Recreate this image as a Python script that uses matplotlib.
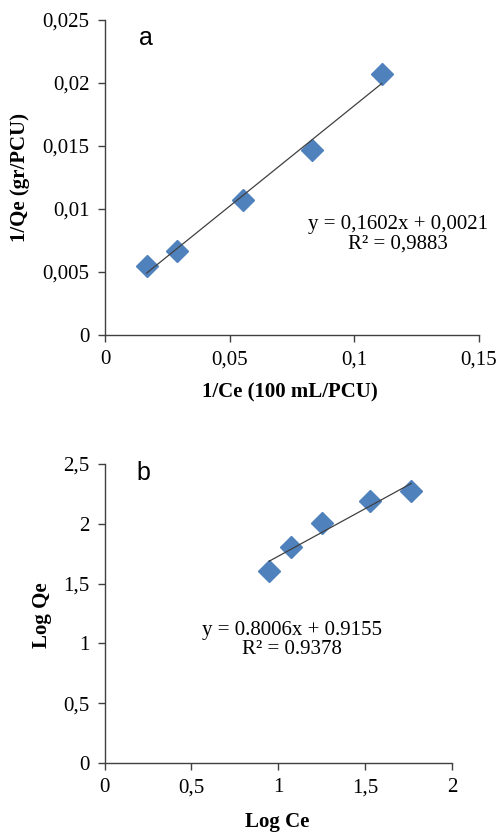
import matplotlib
matplotlib.use("Agg")
import matplotlib.pyplot as plt
import numpy as np
from matplotlib.ticker import FuncFormatter

# Datos: isoterma de Langmuir (a) y Freundlich (b)
inv_ce = [0.0167, 0.0288, 0.0553, 0.0831, 0.1110]
inv_qe = [0.0055, 0.0067, 0.0107, 0.0147, 0.0207]

log_ce = [0.948, 1.075, 1.252, 1.530, 1.765]
log_qe = [1.607, 1.810, 2.010, 2.190, 2.275]

eq_a = "y = 0,1602x + 0,0021\nR² = 0,9883"
eq_b = "y = 0.8006x + 0.9155\nR² = 0.9378"

SERIF = "Liberation Serif"
COLOR = "#4F81BD"
plt.rcParams["font.family"] = SERIF


def comma(v, pos):
    s = f"{v:.3f}".rstrip("0").rstrip(".")
    return s.replace(".", ",")


def style_axes(ax):
    for side in ["top", "right"]:
        ax.spines[side].set_visible(False)
    for side in ["left", "bottom"]:
        ax.spines[side].set_color("#404040")
        ax.spines[side].set_linewidth(1.0)
    ax.tick_params(direction="out", length=5, width=1.0, color="#404040",
                   labelsize=15, pad=6)
    ax.xaxis.set_major_formatter(FuncFormatter(comma))
    ax.yaxis.set_major_formatter(FuncFormatter(comma))


def labels(ax, xl, yl, xpos, ypos):
    ax.set_xlabel(xl, fontweight="bold", fontsize=15)
    ax.set_ylabel(yl, fontweight="bold", fontsize=15)
    ax.xaxis.label.set_va("center")
    ax.yaxis.label.set_va("center")
    ax.xaxis.set_label_coords(*xpos)
    ax.yaxis.set_label_coords(*ypos)


fig = plt.figure(figsize=(4.97, 8.33), dpi=100)

# Grafico a
ax1 = fig.add_axes([105 / 497, 1 - 335 / 833, 374 / 497, 315 / 833])
ax1.set_xlim(0, 0.15)
ax1.set_ylim(0, 0.025)
ax1.set_xticks([0, 0.05, 0.1, 0.15])
ax1.set_yticks([0, 0.005, 0.01, 0.015, 0.02, 0.025])
p = np.polyfit(inv_ce, inv_qe, 1)
xl = np.array([min(inv_ce), max(inv_ce)])
ax1.plot(xl, np.polyval(p, xl), color="#404040", lw=0.9, zorder=3)
ax1.plot(inv_ce, inv_qe, "D", color=COLOR, markersize=11, zorder=2)
style_axes(ax1)
labels(ax1, "1/Ce (100 mL/PCU)", "1/Qe (gr/PCU)", (0.495, -0.181), (-0.227, 0.50))
ax1.text(0.0164, 0.0236, "a", fontsize=18, fontfamily="Liberation Sans",
         va="center", ha="center")
ax1.text(0.1175, 0.0080, eq_a, fontsize=15, ha="center", va="center",
         linespacing=1.0)

# Grafico b
ax2 = fig.add_axes([104.5 / 497, 1 - 763 / 833, 347.5 / 497, 299 / 833])
ax2.set_xlim(0, 2)
ax2.set_ylim(0, 2.5)
ax2.set_xticks([0, 0.5, 1, 1.5, 2])
ax2.set_yticks([0, 0.5, 1, 1.5, 2, 2.5])
p2 = np.polyfit(log_ce, log_qe, 1)
xl2 = np.array([min(log_ce), max(log_ce)])
ax2.plot(xl2, np.polyval(p2, xl2), color="#404040", lw=0.9, zorder=3)
ax2.plot(log_ce, log_qe, "D", color=COLOR, markersize=11, zorder=2)
style_axes(ax2)
labels(ax2, "Log Ce", "Log Qe", (0.496, -0.197), (-0.181, 0.495))
ax2.text(0.224, 2.425, "b", fontsize=18, fontfamily="Liberation Sans",
         va="center", ha="center")
ax2.text(1.079, 1.028, eq_b, fontsize=15, ha="center", va="center",
         linespacing=1.0)

fig.savefig("out.png", dpi=100)
